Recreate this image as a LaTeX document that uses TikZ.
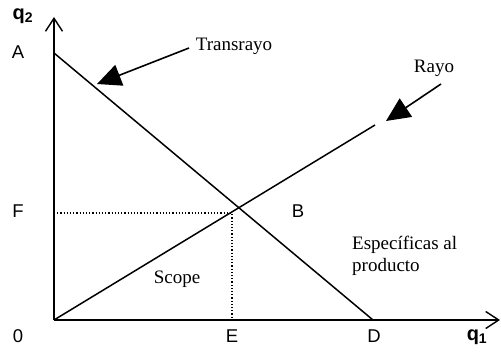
\documentclass[tikz,border=0pt]{standalone}
\usepackage{fontspec}
\setmainfont{Liberation Serif}
\newfontfamily\arialf{Liberation Sans}
\usetikzlibrary{arrows.meta}
\begin{document}
\begin{tikzpicture}[x=1pt,y=-1pt,
  axis/.style={line width=1.5pt,-{Straight Barb[length=13pt,width=17pt,line width=1.4pt]}},
  curve/.style={line width=1.5pt},
  guide/.style={line width=1.2pt,dotted},
  pointer/.style={line width=1.6pt,-{Triangle[length=24pt,width=22pt]}},
  lab/.style={font=\arialf\fontsize{18.5}{20}\selectfont,inner sep=0pt},
  axlab/.style={font=\arialf\bfseries\fontsize{20}{22}\selectfont,inner sep=0pt},
  txt/.style={font=\fontsize{19}{22}\selectfont,inner sep=0pt}]
\useasboundingbox (0,0) rectangle (501,351);
\coordinate (O) at (54,320);
\coordinate (Ytop) at (54,17);
\coordinate (Xend) at (500,320);
\coordinate (Apt) at (54,53);
\coordinate (Dpt) at (373,320);
\coordinate (Rend) at (375,125);
\coordinate (Fpt) at (54,213);
\coordinate (Cpt) at (232,213);
\coordinate (Ept) at (232,320);
% axes
\draw[axis] (O) -- (Ytop);
\draw[axis] (O) -- (Xend);
% lines
\draw[curve] (Apt) -- (Dpt);
\draw[curve] (O) -- (Rend);
% guides
\draw[guide] (Fpt) -- (Cpt) -- (Ept);
% labels
\node[axlab] (q2) at (23,16) {q\textsubscript{2}};
\node[axlab] (q1) at (477,337) {q\textsubscript{1}};
\node[lab] (A) at (18,52) {A};
\node[lab] (F) at (18,211) {F};
\node[lab] (zero) at (18,336) {0};
\node[lab] (E) at (232,336) {E};
\node[lab] (D) at (374,336) {D};
\node[lab] (B) at (298,211) {B};
\node[txt] (trans) at (234,46) {Transrayo};
\node[txt] (rayo) at (434,68) {Rayo};
\node[txt] (scope) at (177,279) {Scope};
\node[txt,align=left,anchor=west] (espec) at (352,256) {Específicas al\\producto};
% pointers
\coordinate (tTip) at (97,84);
\coordinate (rTip) at (386,121);
\draw[pointer] (189,48) -- (tTip);
\draw[pointer] (441,84) -- (rTip);
\end{tikzpicture}
\end{document}
